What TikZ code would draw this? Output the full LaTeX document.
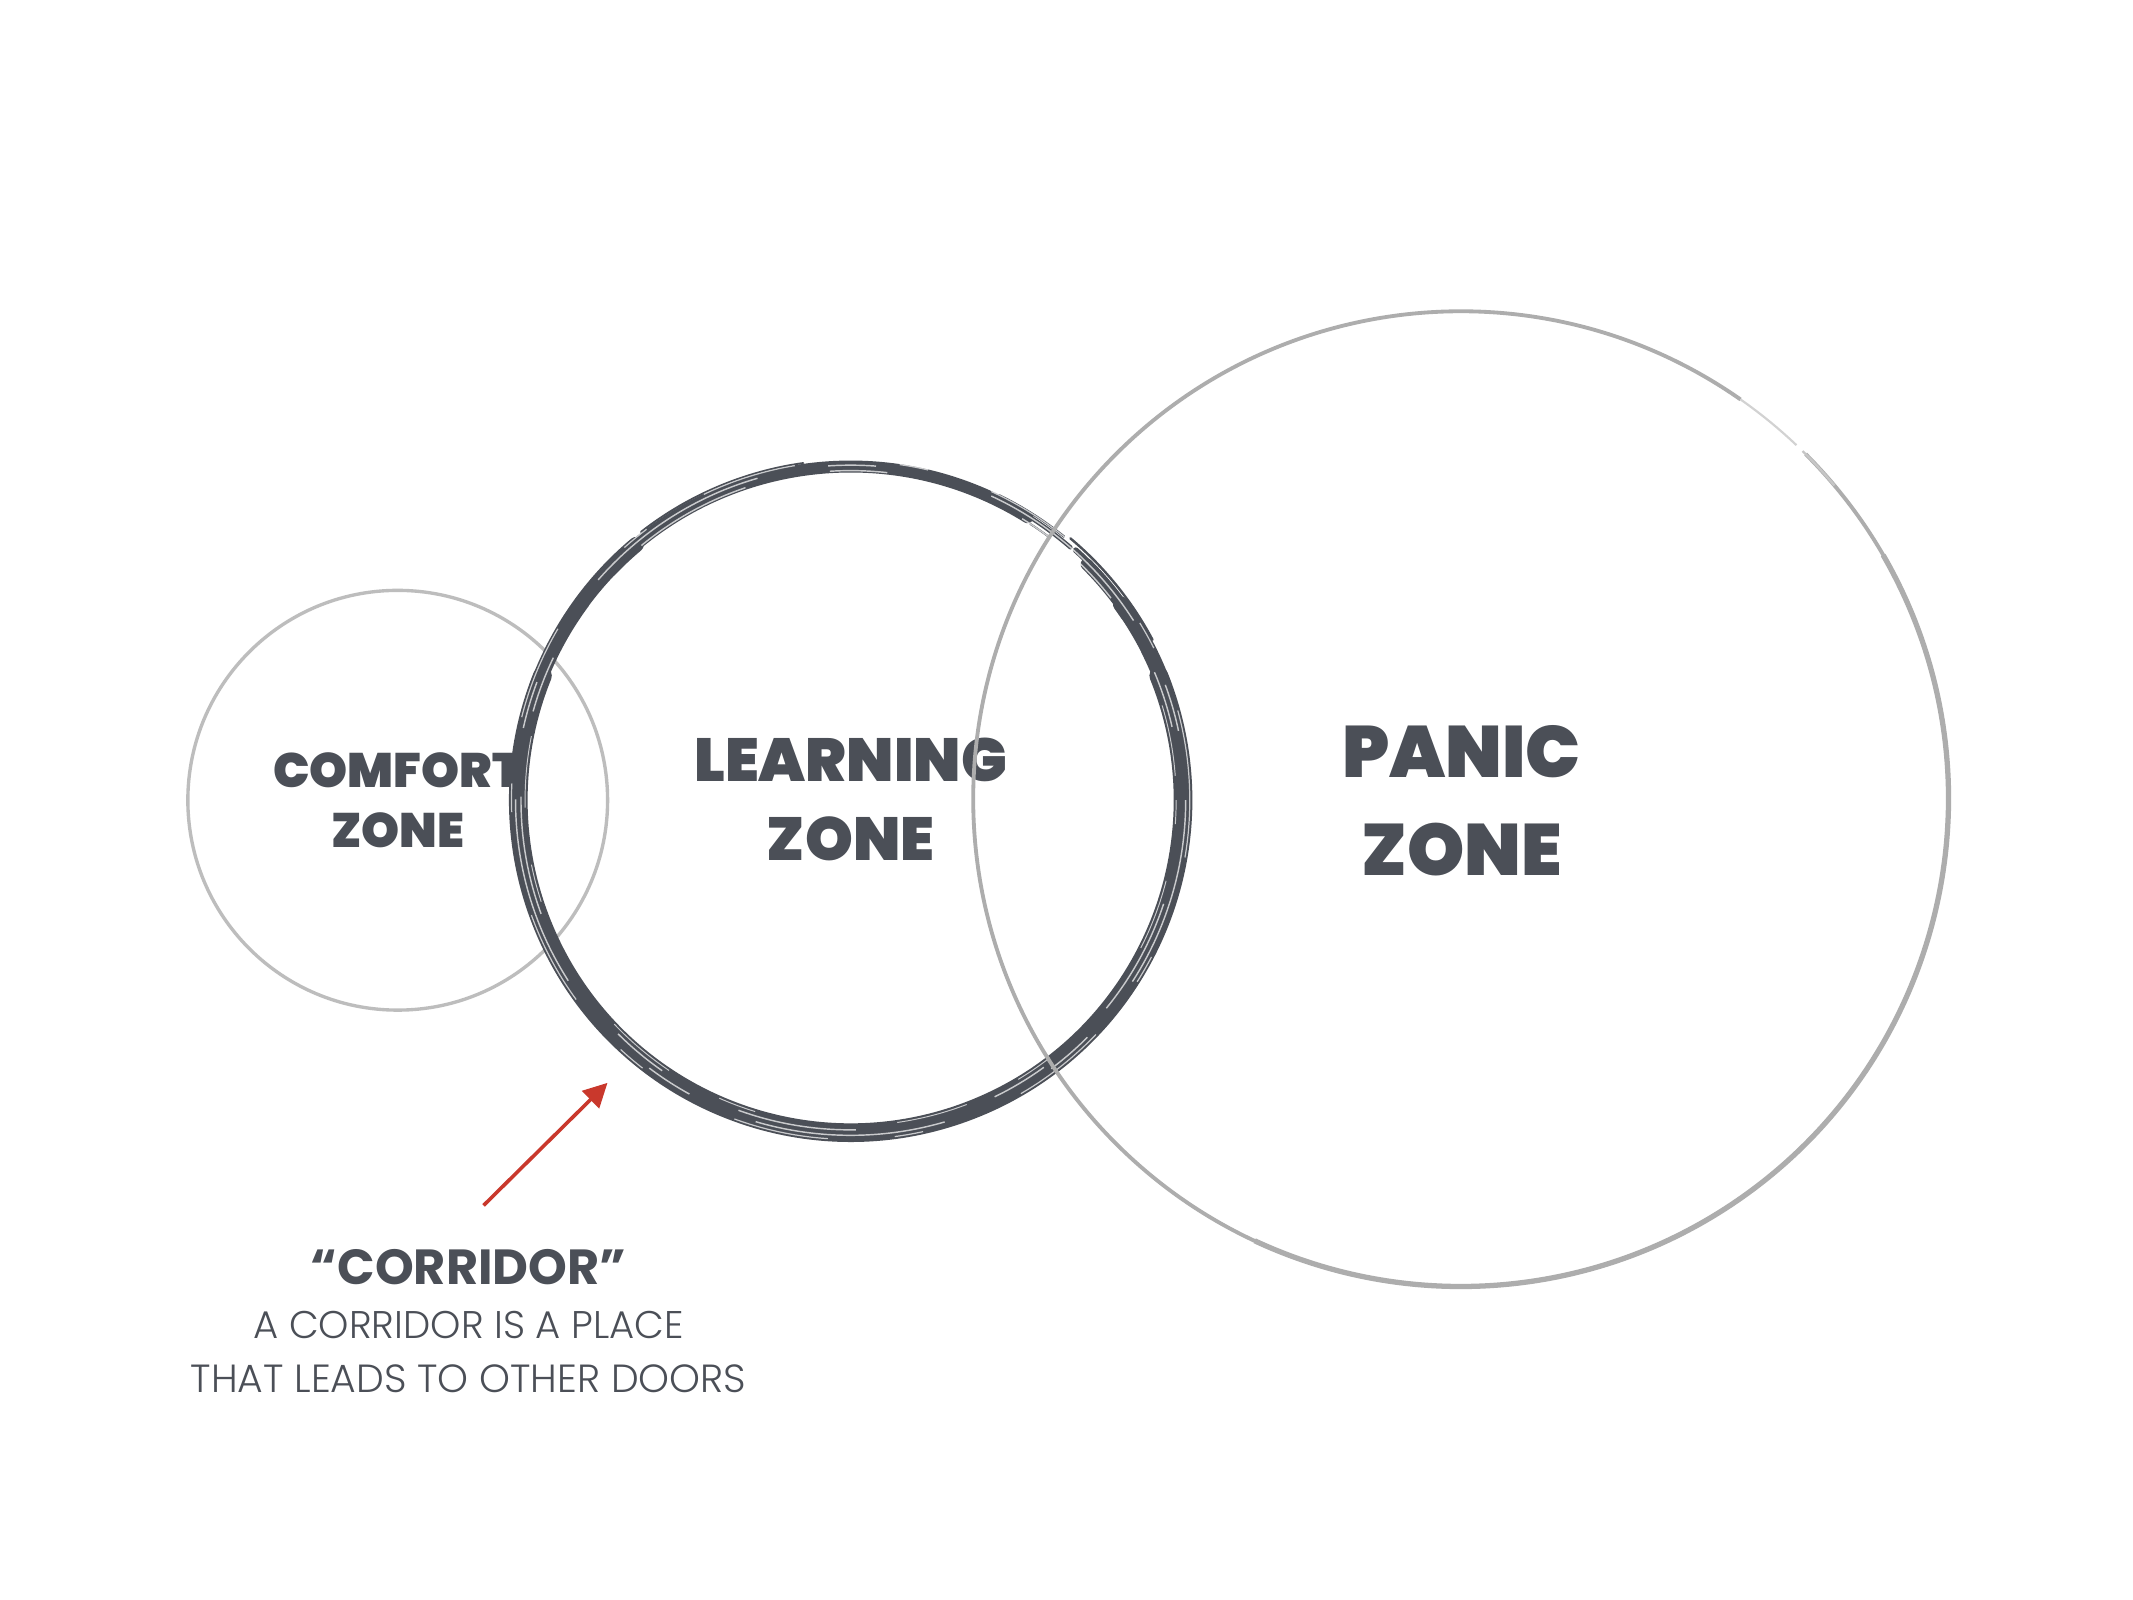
\documentclass[tikz,border=0pt]{standalone}
\usepackage{fontspec}
\newfontfamily\heavyfont{Poppins Black}
\newfontfamily\boldfont{Poppins Bold}
\newfontfamily\lightfont{Poppins Light}
\usetikzlibrary{arrows.meta}
\definecolor{slate}{HTML}{4B4F57}
\definecolor{ringgray}{HTML}{ADADAD}
\definecolor{palegray}{HTML}{BDBDBD}
\definecolor{arrowred}{HTML}{C9382C}

\tikzset{
  brush/.style={draw=slate,line cap=round},
  streak/.style={draw=white,line width=0.3pt,opacity=0.7},
  zonelabel/.style={anchor=base,text=slate},
}

\begin{document}
\begin{tikzpicture}[x=0.01cm,y=-0.01cm]
            \useasboundingbox[fill=white] (0,0) rectangle (1566,1174.5);

            % comfort zone
            \node (comfort) at (292,587.5) [circle,draw=palegray,line width=0.7pt,minimum size=3.08cm] {};
            \node (comforttxt) at (292,578) [zonelabel,font=\heavyfont\fontsize{10.1}{12}\selectfont] {COMFORT};
            \node (comfortzone) at (292,622) [zonelabel,font=\heavyfont\fontsize{10.1}{12}\selectfont] {ZONE};

            % learning zone, brush ring
            \node (learning) at (624.5,587.5) [circle,minimum size=4.90cm] {};
            \draw[brush,line width=2.5pt] (learning.center) ++(-45:245) arc[start angle=-45,end angle=302,radius=245];
            \draw[brush,line width=3.9pt] (learning.center) ++(-22:244) arc[start angle=-22,end angle=202,radius=244];
            \draw[brush,line width=3.2pt] (learning.center) ++(-36:245) arc[start angle=-36,end angle=-20,radius=245];
            \draw[brush,line width=3.2pt] (learning.center) ++(200:245) arc[start angle=200,end angle=230,radius=245];
            \draw[brush,line width=1.2pt] (learning.center) ++(-48:247) arc[start angle=-48,end angle=-38,radius=247];
            \draw[brush,line width=0.9pt] (learning.center) ++(300:246) arc[start angle=300,end angle=311,radius=246];
            \draw[brush,line width=0.5pt] (learning.center) ++(296:249) arc[start angle=296,end angle=309,radius=249];
            \draw[brush,line width=0.4pt] (learning.center) ++(303:242) arc[start angle=303,end angle=307,radius=242];
            \draw[brush,line width=0.5pt] (learning.center) ++(-50:251) arc[start angle=-50,end angle=-28,radius=251];
            \draw[brush,line width=0.4pt] (learning.center) ++(232:250) arc[start angle=232,end angle=262,radius=250];
            \draw[streak,dash pattern=on 40pt off 15pt on 10pt off 25pt] (learning.center) circle[radius=246];
            \draw[streak,dash pattern=on 12pt off 30pt on 25pt off 18pt,dash phase=20pt] (learning.center) circle[radius=242];
            \draw[streak,line width=0.25pt,dash pattern=on 20pt off 22pt on 6pt off 14pt,dash phase=8pt] (learning.center) circle[radius=249];
            \draw[streak,line width=0.2pt,dash pattern=on 8pt off 12pt on 15pt off 30pt,dash phase=3pt] (learning.center) circle[radius=239];
            \node (learningtxt) at (624.5,574) [zonelabel,font=\heavyfont\fontsize{12.7}{15}\selectfont] {LEARNING};
            \node (learningzone) at (624.5,632) [zonelabel,font=\heavyfont\fontsize{12.7}{15}\selectfont] {ZONE};

            % panic zone
            \node (panic) at (1072.5,586.5) [circle,minimum size=7.16cm] {};
            \draw[ringgray,line width=0.8pt] (panic.center) ++(-45:358) arc[start angle=-45,end angle=305,radius=358];
            \draw[ringgray,line width=1.1pt] (panic.center) ++(-30:358) arc[start angle=-30,end angle=115,radius=358];
            \draw[ringgray!55,line width=0.45pt] (panic.center) ++(305:358) arc[start angle=305,end angle=313.5,radius=358];
            \draw[ringgray!70,line width=0.5pt] (panic.center) ++(-45.5:358) arc[start angle=-45.5,end angle=-40,radius=358];
            \node (panictxt) at (1073,571) [zonelabel,font=\heavyfont\fontsize{15.2}{18}\selectfont] {PANIC};
            \node (paniczone) at (1073,643) [zonelabel,font=\heavyfont\fontsize{15.2}{18}\selectfont] {ZONE};

            % corridor note
            \node (corridor) at (344,943) [zonelabel,font=\boldfont\fontsize{10.3}{12}\selectfont] {“CORRIDOR”};
            \node (note1) at (344,983) [zonelabel,font=\lightfont\fontsize{8.05}{10}\selectfont] {A CORRIDOR IS A PLACE};
            \node (note2) at (344,1022) [zonelabel,font=\lightfont\fontsize{8.2}{10}\selectfont] {THAT LEADS TO OTHER DOORS};

            \coordinate (tail) at (355,885);
            \coordinate (tip) at (446,795);
            \draw[arrowred,line width=0.75pt,-{Triangle[length=5pt,width=5pt]}] (tail) -- (tip);

        \end{tikzpicture}
\end{document}
